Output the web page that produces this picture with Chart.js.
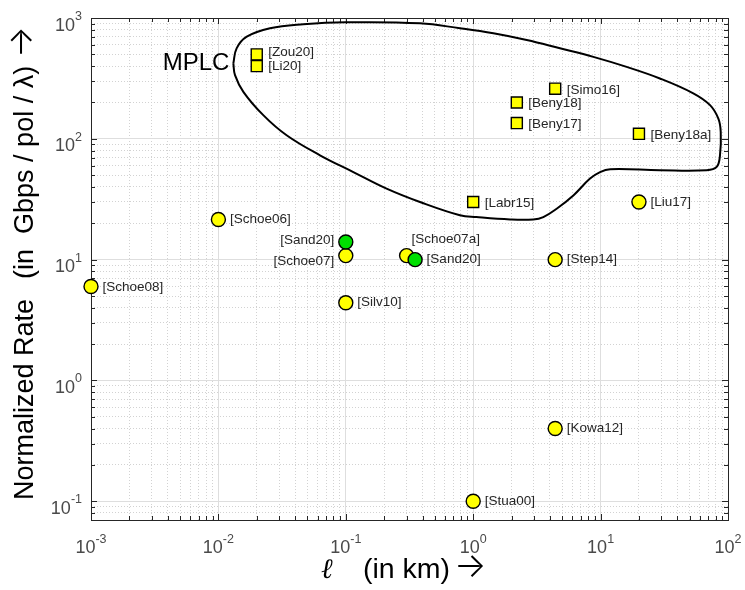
<!DOCTYPE html>
<html>
<head>
<meta charset="utf-8">
<script src="https://cdn.jsdelivr.net/npm/chart.js@4.4.1/dist/chart.umd.min.js"></script>
<style>
  html, body { margin: 0; padding: 0; background: #fff; }
  canvas { display: block; }
</style>
</head>
<body>
<canvas id="c" width="745" height="590"></canvas>
<script>
// Reported demonstrations: link length (km) against normalized rate (Gbps/pol/λ)
const circleNames = ['[Schoe08]', '[Schoe06]', '[Schoe07]', '[Silv10]', '[Schoe07a]', '[Step14]', '[Liu17]', '[Kowa12]', '[Stua00]'];
const circleKm    = [0.001, 0.01, 0.1, 0.1, 0.3, 4.4, 20, 4.4, 1];
const circleRate  = [6, 21.5, 10.8, 4.4, 10.8, 10, 30, 0.4, 0.1];

const greenNames = ['[Sand20]', '[Sand20]'];
const greenKm    = [0.1, 0.35];
const greenRate  = [14, 10];

const squareNames = ['[Zou20]', '[Li20]', '[Simo16]', '[Beny18]', '[Beny17]', '[Beny18a]', '[Labr15]'];
const squareKm    = [0.02, 0.02, 4.4, 2.2, 2.2, 20, 1];
const squareRate  = [500, 400, 260, 200, 135, 110, 30];

// Outline enclosing the MPLC-based results (closed loop)
const regionName = 'MPLC';
const mplcKm   = [0.0131, 0.0139, 0.0167, 0.0254, 0.0464, 0.1, 0.382, 0.787, 1.44, 2.63, 4.8, 8.77, 16, 29.2, 53.4, 72.3, 84, 87.7, 86.5, 81.5, 68, 29.2, 11.9, 9.9, 8.26, 6.11, 4.52, 3.55, 2.96, 1.95, 1.06, 0.787, 0.382, 0.209, 0.1146, 0.0627, 0.0343, 0.0225, 0.0157, 0.0135, 0.0131];
const mplcRate = [421, 561, 700, 822, 887, 921, 904, 822, 747, 657, 561, 477, 394, 316, 238, 190, 147, 114, 73.1, 58.5, 55, 55, 56, 53.1, 46.9, 34, 26.4, 22.5, 21.5, 21.5, 22.5, 23.3, 30, 38.7, 53.1, 73.1, 107, 157, 245, 337, 421];

// Decade tick labels, 10^n
const xTickExponents = [-3, -2, -1, 0, 1, 2];
const yTickExponents = [-1, 0, 1, 2, 3];

const xTitleParts = ['ℓ', '(in km)', '→'];
const yTitleParts = ['Normalized Rate', '(in  Gbps / pol / λ)', '→'];

// Where each name sits relative to its marker
const circleLabelLayout = [
  { side: 'right', dy: 1 }, { side: 'right', dy: 0 }, { side: 'left', dy: 6 },
  { side: 'right', dy: 0 }, { side: 'above', dy: 0 }, { side: 'right', dy: 0 },
  { side: 'right', dy: 0 }, { side: 'right', dy: 0 }, { side: 'right', dy: 0 }
];
const greenLabelLayout = [{ side: 'left', dy: -2 }, { side: 'right', dy: 0 }];
const squareLabelLayout = [
  { side: 'right', dy: -2 }, { side: 'right', dy: 0 }, { side: 'right', dy: 2 },
  { side: 'right', dy: 1 }, { side: 'right', dy: 1 }, { side: 'right', dy: 1 }, { side: 'right', dy: 1 }
];

const toPoints = (xs, ys) => xs.map((v, i) => ({ x: v, y: ys[i] }));

// 1..9 x 10^n ticks across the axis range
function logTicks(min, max) {
  const out = [];
  for (let e = Math.floor(Math.log10(min)); e <= Math.ceil(Math.log10(max)); e++) {
    for (let m = 1; m <= 9; m++) {
      const v = parseFloat((m * Math.pow(10, e)).toPrecision(6));
      if (v >= min * 0.9999 && v <= max * 1.0001) out.push({ value: v, major: m === 1 });
    }
  }
  return out;
}

const SANS = '"Liberation Sans", Arial, Helvetica, sans-serif';
const ARROW = 'Inter, "Noto Sans CJK SC", sans-serif';

const gridOpts = {
  color: (c) => (c.tick && c.tick.major) ? '#dedede' : '#d2d2d2',
  lineWidth: 1,
  drawTicks: false
};
const borderOpts = {
  display: false,
  dash: (c) => (c.type === 'tick' && c.tick && !c.tick.major) ? [1, 2] : []
};

const framePlugin = {
  id: 'frame',
  beforeDatasetsDraw(chart) {
    const { ctx, chartArea: a, scales: { x, y } } = chart;
    ctx.save();
    ctx.strokeStyle = '#262626';
    ctx.lineWidth = 1;
    ctx.beginPath();
    x.ticks.forEach(t => {
      const px = Math.round(x.getPixelForValue(t.value)) + 0.5;
      const len = t.major ? 6 : 4;
      ctx.moveTo(px, a.bottom); ctx.lineTo(px, a.bottom - len);
      ctx.moveTo(px, a.top); ctx.lineTo(px, a.top + len);
    });
    y.ticks.forEach(t => {
      const py = Math.round(y.getPixelForValue(t.value)) + 0.5;
      const len = t.major ? 6 : 4;
      ctx.moveTo(a.left, py); ctx.lineTo(a.left + len, py);
      ctx.moveTo(a.right, py); ctx.lineTo(a.right - len, py);
    });
    ctx.stroke();
    ctx.strokeRect(Math.round(a.left) + 0.5, Math.round(a.top) + 0.5,
                   Math.round(a.right - a.left), Math.round(a.bottom - a.top));

    // decade tick labels with raised exponent
    ctx.fillStyle = '#4a4a4a';
    ctx.textBaseline = 'alphabetic';
    ctx.textAlign = 'left';
    const baseFont = '18px ' + SANS;
    const supFont = '12.5px ' + SANS;
    const measure = (e) => {
      ctx.font = baseFont; const w1 = ctx.measureText('10').width;
      ctx.font = supFont; const w2 = ctx.measureText(String(e)).width;
      return [w1, w2];
    };
    xTickExponents.forEach(e => {
      const px = x.getPixelForValue(Math.pow(10, e));
      const [w1, w2] = measure(e);
      const start = px - (w1 + w2) / 2;
      ctx.font = baseFont; ctx.fillText('10', start, a.bottom + 33);
      ctx.font = supFont; ctx.fillText(String(e), start + w1, a.bottom + 23);
    });
    yTickExponents.forEach(e => {
      const py = y.getPixelForValue(Math.pow(10, e));
      const [w1, w2] = measure(e);
      const start = a.left - 9 - (w1 + w2);
      ctx.font = baseFont; ctx.fillText('10', start, py + 12.5);
      ctx.font = supFont; ctx.fillText(String(e), start + w1, py + 2);
    });

    // x axis title: symbol, unit, arrow
    ctx.fillStyle = '#000';
    const xb = a.bottom + 58;
    ctx.font = 'italic 28px "DejaVu Serif", serif';
    ctx.fillText(xTitleParts[0], 321, xb);
    ctx.font = '28.5px ' + SANS;
    ctx.fillText(xTitleParts[1], 363, xb);
    const wx = ctx.measureText(xTitleParts[1]).width;
    ctx.font = '300 34px ' + ARROW;
    ctx.fillText(xTitleParts[2], 363 + wx + 4, xb - 1);

    // y axis title, written bottom-to-top
    ctx.save();
    ctx.translate(33, 500);
    ctx.rotate(-Math.PI / 2);
    ctx.textAlign = 'left';
    ctx.font = '27px ' + SANS;
    ctx.fillText(yTitleParts[0], 0, 0);
    let off = ctx.measureText(yTitleParts[0]).width + 20;
    ctx.fillText(yTitleParts[1], off, 0);
    off += ctx.measureText(yTitleParts[1]).width + 8;
    ctx.font = '300 33px ' + ARROW;
    ctx.fillText(yTitleParts[2], off, -1);
    ctx.restore();

    ctx.restore();
  }
};

const labelPlugin = {
  id: 'pointNames',
  afterDatasetsDraw(chart) {
    const ctx = chart.ctx;
    ctx.save();
    ctx.font = '13.5px ' + SANS;
    ctx.fillStyle = '#262626';
    ctx.textBaseline = 'middle';
    chart.data.datasets.forEach((ds, di) => {
      const meta = chart.getDatasetMeta(di);
      if (ds.names) {
        meta.data.forEach((el, i) => {
          const lay = ds.labelLayout[i];
          const t = ds.names[i];
          if (lay.side === 'right') {
            ctx.textAlign = 'left';
            ctx.fillText(t, el.x + 11.5, el.y + lay.dy);
          } else if (lay.side === 'left') {
            ctx.textAlign = 'right';
            ctx.fillText(t, el.x - 11.5, el.y + lay.dy);
          } else {
            ctx.textAlign = 'left';
            ctx.fillText(t, el.x + 5, el.y - 16 + lay.dy);
          }
        });
      }
      if (ds.regionLabel) {
        const el = meta.data[0];
        ctx.save();
        ctx.font = '24px ' + SANS;
        ctx.fillStyle = '#000';
        ctx.textAlign = 'right';
        ctx.fillText(ds.regionLabel, el.x - 4, el.y);
        ctx.restore();
      }
    });
    ctx.restore();
  }
};

new Chart(document.getElementById('c'), {
  type: 'scatter',
  data: {
    datasets: [
      {
        data: toPoints(greenKm, greenRate),
        names: greenNames, labelLayout: greenLabelLayout,
        pointStyle: 'circle', pointRadius: 7, pointHoverRadius: 7,
        backgroundColor: '#00e000', borderColor: '#000', borderWidth: 1.4,
        clip: false
      },
      {
        data: toPoints(circleKm, circleRate),
        names: circleNames, labelLayout: circleLabelLayout,
        pointStyle: 'circle', pointRadius: 7, pointHoverRadius: 7,
        backgroundColor: '#ffff00', borderColor: '#000', borderWidth: 1.4,
        clip: false
      },
      {
        data: toPoints(squareKm, squareRate),
        names: squareNames, labelLayout: squareLabelLayout,
        pointStyle: 'rect', pointRadius: 7.8, pointHoverRadius: 7.8,
        backgroundColor: '#ffff00', borderColor: '#000', borderWidth: 1.4,
        clip: false
      },
      {
        data: toPoints(mplcKm, mplcRate),
        regionLabel: regionName,
        showLine: true, fill: false, tension: 0.4,
        borderColor: '#000', borderWidth: 2,
        pointRadius: 0, pointHoverRadius: 0,
        clip: false
      }
    ]
  },
  options: {
    responsive: false,
    animation: false,
    devicePixelRatio: 1,
    layout: { padding: { left: 0, top: 18, right: 17, bottom: 0 } },
    plugins: { legend: { display: false }, tooltip: { enabled: false } },
    scales: {
      x: {
        type: 'logarithmic', position: 'bottom', min: 0.001, max: 100,
        afterBuildTicks: (s) => { s.ticks = logTicks(0.001, 100); },
        afterFit: (s) => { s.height = 70; },
        ticks: { display: false },
        grid: gridOpts, border: borderOpts
      },
      y: {
        type: 'logarithmic', position: 'left', min: 0.07, max: 1000,
        afterBuildTicks: (s) => { s.ticks = logTicks(0.07, 1000); },
        afterFit: (s) => { s.width = 91; },
        ticks: { display: false },
        grid: gridOpts, border: borderOpts
      }
    }
  },
  plugins: [framePlugin, labelPlugin]
});
</script>
</body>
</html>
